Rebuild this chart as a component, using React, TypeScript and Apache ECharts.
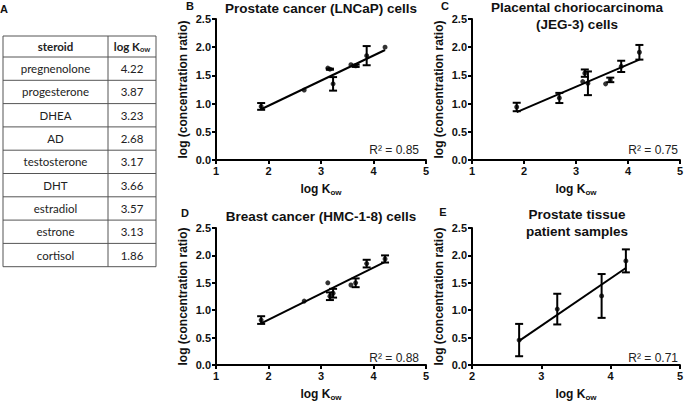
import React, { useEffect, useRef } from "react";
import * as echarts from "echarts";

const steroids = ["pregnenolone", "progesterone", "DHEA", "AD", "testosterone", "DHT", "estradiol", "estrone", "cortisol"];
const logKow = [4.22, 3.87, 3.23, 2.68, 3.17, 3.66, 3.57, 3.13, 1.86];

const lncapRatio = [2.0, 1.85, 1.35, 1.24, 1.61, 1.67, 1.69, 1.63, 0.95];
const lncapErr = [0, 0.17, 0.12, 0, 0.01, 0.02, 0, 0, 0.06];
const lncapFit = [0.9, 1.95];

const jegRatio = [1.91, 1.66, 1.36, 1.1, 1.54, 1.42, 1.35, 1.39, 0.94];
const jegErr = [0.13, 0.1, 0.21, 0.09, 0.065, 0.04, 0, 0, 0.075];
const jegFit = [0.85, 1.78];

const hmcRatio = [1.935, 1.85, 1.31, 1.166, 1.255, 1.5, 1.46, 1.5, 0.82];
const hmcErr = [0.065, 0.07, 0.08, 0, 0.07, 0.08, 0, 0, 0.07];
const hmcFit = [0.76, 1.88];

const tissueKow = [2.68, 3.23, 3.87, 4.22];
const tissueRatio = [0.455, 1.02, 1.26, 1.9];
const tissueErr = [0.295, 0.28, 0.4, 0.21];
const tissueFit = [0.44, 1.77];

const cellFitX = [1.86, 4.22];
const tissueFitX = [2.68, 4.22];

const titles = ["Prostate cancer (LNCaP) cells", "Placental choriocarcinoma\n(JEG-3) cells", "Breast cancer (HMC-1-8) cells", "Prostate tissue\npatient samples"];
const letters = ["B", "C", "D", "E"];
const r2 = ["0.85", "0.75", "0.88", "0.71"];
const xMins = [1, 1, 1, 2];

const FONT = '"Liberation Sans", Arial, sans-serif';
const TFONT = 'Lato, "Liberation Sans", sans-serif';

const grids = [
  { left: 216, top: 19, width: 210, height: 141 },
  { left: 472, top: 19, width: 211, height: 141 },
  { left: 216, top: 228, width: 210, height: 140 },
  { left: 472, top: 228, width: 211, height: 140 },
];
const titlePos = [
  { x: 321, y: 8 },
  { x: 577, y: 16 },
  { x: 321, y: 216 },
  { x: 577, y: 223 },
];
const letterPos = [
  { x: 190, y: 6 },
  { x: 445, y: 6 },
  { x: 185, y: 213 },
  { x: 443, y: 212 },
];
const r2Pos = [
  { x: 419, y: 150 },
  { x: 678, y: 150 },
  { x: 419, y: 358 },
  { x: 678, y: 358 },
];

export default function App() {
  const ref = useRef<HTMLDivElement>(null);
  useEffect(() => {
    const chart = echarts.init(ref.current!, null, { renderer: "svg" });

    const panels = [
      { x: logKow, y: lncapRatio, e: lncapErr, fitX: cellFitX, fitY: lncapFit },
      { x: logKow, y: jegRatio, e: jegErr, fitX: cellFitX, fitY: jegFit },
      { x: logKow, y: hmcRatio, e: hmcErr, fitX: cellFitX, fitY: hmcFit },
      { x: tissueKow, y: tissueRatio, e: tissueErr, fitX: tissueFitX, fitY: tissueFit },
    ];

    const xAxis = grids.map((_, i) => ({
      type: "value",
      gridIndex: i,
      min: xMins[i],
      max: 5,
      interval: 1,
      name: "{a|log K}{b|ow}",
      nameLocation: "middle",
      nameGap: 22,
      nameTextStyle: {
        rich: {
          a: { fontSize: 12, fontWeight: "bold", fontFamily: FONT, color: "#111", lineHeight: 14 },
          b: { fontSize: 8, fontWeight: "bold", fontFamily: FONT, color: "#111", lineHeight: 6, verticalAlign: "bottom" },
        },
      },
      axisLine: { lineStyle: { color: "#000", width: 2 } },
      axisTick: { length: 4, lineStyle: { color: "#000", width: 2 } },
      axisLabel: { margin: 5, fontSize: 11, fontWeight: "bold", fontFamily: FONT, color: "#111" },
      splitLine: { show: false },
    }));
    const yAxis = grids.map((_, i) => ({
      type: "value",
      gridIndex: i,
      min: 0,
      max: 2.5,
      interval: 0.5,
      name: "log (concentration ratio)",
      nameLocation: "middle",
      nameGap: 27,
      nameTextStyle: { fontSize: 12, fontWeight: "bold", fontFamily: FONT, color: "#111" },
      axisLine: { show: true, lineStyle: { color: "#000", width: 2 } },
      axisTick: { show: true, length: 4, lineStyle: { color: "#000", width: 2 } },
      axisLabel: { margin: 5, fontSize: 11, fontWeight: "bold", fontFamily: FONT, color: "#111", formatter: (v: number) => v.toFixed(1) },
      splitLine: { show: false },
    }));

    const series: any[] = [];
    panels.forEach((p, i) => {
      const pts = p.x.map((xv, k) => [xv, p.y[k], p.e[k]]);
      series.push({
        type: "line",
        xAxisIndex: i,
        yAxisIndex: i,
        data: p.fitX.map((xv, k) => [xv, p.fitY[k]]),
        showSymbol: false,
        symbol: "none",
        lineStyle: { color: "#000", width: 2 },
        silent: true,
      });
      series.push({
        type: "custom",
        xAxisIndex: i,
        yAxisIndex: i,
        dimensions: ["x", "y", "e"],
        encode: { x: 0, y: 1 },
        data: pts,
        renderItem: (params: any, api: any) => {
          const xv = api.value(0);
          const yv = api.value(1);
          const ev = api.value(2);
          if (!ev) return { type: "group", children: [] };
          const top = api.coord([xv, yv + ev]);
          const bot = api.coord([xv, yv - ev]);
          const w = 4;
          const st = { stroke: "#000", lineWidth: 2 };
          return {
            type: "group",
            children: [
              { type: "line", shape: { x1: top[0], y1: top[1], x2: bot[0], y2: bot[1] }, style: st },
              { type: "line", shape: { x1: top[0] - w, y1: top[1], x2: top[0] + w, y2: top[1] }, style: st },
              { type: "line", shape: { x1: bot[0] - w, y1: bot[1], x2: bot[0] + w, y2: bot[1] }, style: st },
            ],
          };
        },
        silent: true,
      });
      series.push({
        type: "scatter",
        xAxisIndex: i,
        yAxisIndex: i,
        data: pts.map((d) => [d[0], d[1]]),
        symbolSize: 5,
        itemStyle: { color: "#000" },
      });
    });

    const graphic: any[] = [];
    const tLeft = 3, tRight = 156, tDiv = 108, tTop = 36, headH = 21, rowH = 23.3;
    const tBottom = tTop + headH + rowH * steroids.length;
    graphic.push({
      type: "rect",
      shape: { x: tLeft, y: tTop, width: tRight - tLeft, height: tBottom - tTop },
      style: { fill: "none", stroke: "#555", lineWidth: 1 },
    });
    graphic.push({
      type: "line",
      shape: { x1: tDiv, y1: tTop, x2: tDiv, y2: tBottom },
      style: { stroke: "#555", lineWidth: 1 },
    });
    for (let k = 0; k < steroids.length; k++) {
      const yl = tTop + headH + rowH * k;
      graphic.push({
        type: "line",
        shape: { x1: tLeft, y1: yl, x2: tRight, y2: yl },
        style: { stroke: "#555", lineWidth: 1 },
      });
    }
    const c1 = (tLeft + tDiv) / 2, c2 = (tDiv + tRight) / 2;
    graphic.push({
      type: "text",
      x: c1,
      y: tTop + headH / 2,
      style: { text: "steroid", font: `bold 11.5px ${TFONT}`, fill: "#222", align: "center", verticalAlign: "middle" },
    });
    graphic.push({
      type: "text",
      x: c2,
      y: tTop + headH / 2,
      style: {
        text: "{a|log K}{b|ow}",
        align: "center",
        verticalAlign: "middle",
        rich: {
          a: { font: `bold 11.5px ${TFONT}`, fill: "#222", lineHeight: 14 },
          b: { font: `bold 7.5px ${TFONT}`, fill: "#222", lineHeight: 8, verticalAlign: "bottom" },
        },
      },
    });
    steroids.forEach((s, k) => {
      const yc = tTop + headH + rowH * k + rowH / 2;
      graphic.push({
        type: "text",
        x: c1,
        y: yc,
        style: { text: s, font: `11.5px ${TFONT}`, fill: "#222", align: "center", verticalAlign: "middle" },
      });
      graphic.push({
        type: "text",
        x: c2,
        y: yc,
        style: { text: logKow[k].toFixed(2), font: `11.5px ${TFONT}`, fill: "#222", align: "center", verticalAlign: "middle" },
      });
    });
    graphic.push({
      type: "text",
      x: 4,
      y: 9,
      style: { text: "A", font: `bold 11px ${FONT}`, fill: "#111", align: "center", verticalAlign: "middle" },
    });
    titles.forEach((t, i) => {
      graphic.push({
        type: "text",
        x: titlePos[i].x,
        y: titlePos[i].y,
        style: { text: t, font: `bold 13.5px ${FONT}`, fill: "#111", align: "center", verticalAlign: "middle", lineHeight: 17 },
      });
      graphic.push({
        type: "text",
        x: letterPos[i].x,
        y: letterPos[i].y,
        style: { text: letters[i], font: `bold 11px ${FONT}`, fill: "#111", align: "center", verticalAlign: "middle" },
      });
      graphic.push({
        type: "text",
        x: r2Pos[i].x,
        y: r2Pos[i].y,
        style: { text: `R² = ${r2[i]}`, font: `12px ${FONT}`, fill: "#222", align: "right", verticalAlign: "middle" },
      });
    });

    chart.setOption({
      animation: false,
      backgroundColor: "#fff",
      grid: grids,
      xAxis,
      yAxis,
      series,
      graphic,
    });
    return () => chart.dispose();
  }, []);
  return <div ref={ref} style={{ position: "fixed", left: 0, top: 0, width: 686, height: 402 }} />;
}
